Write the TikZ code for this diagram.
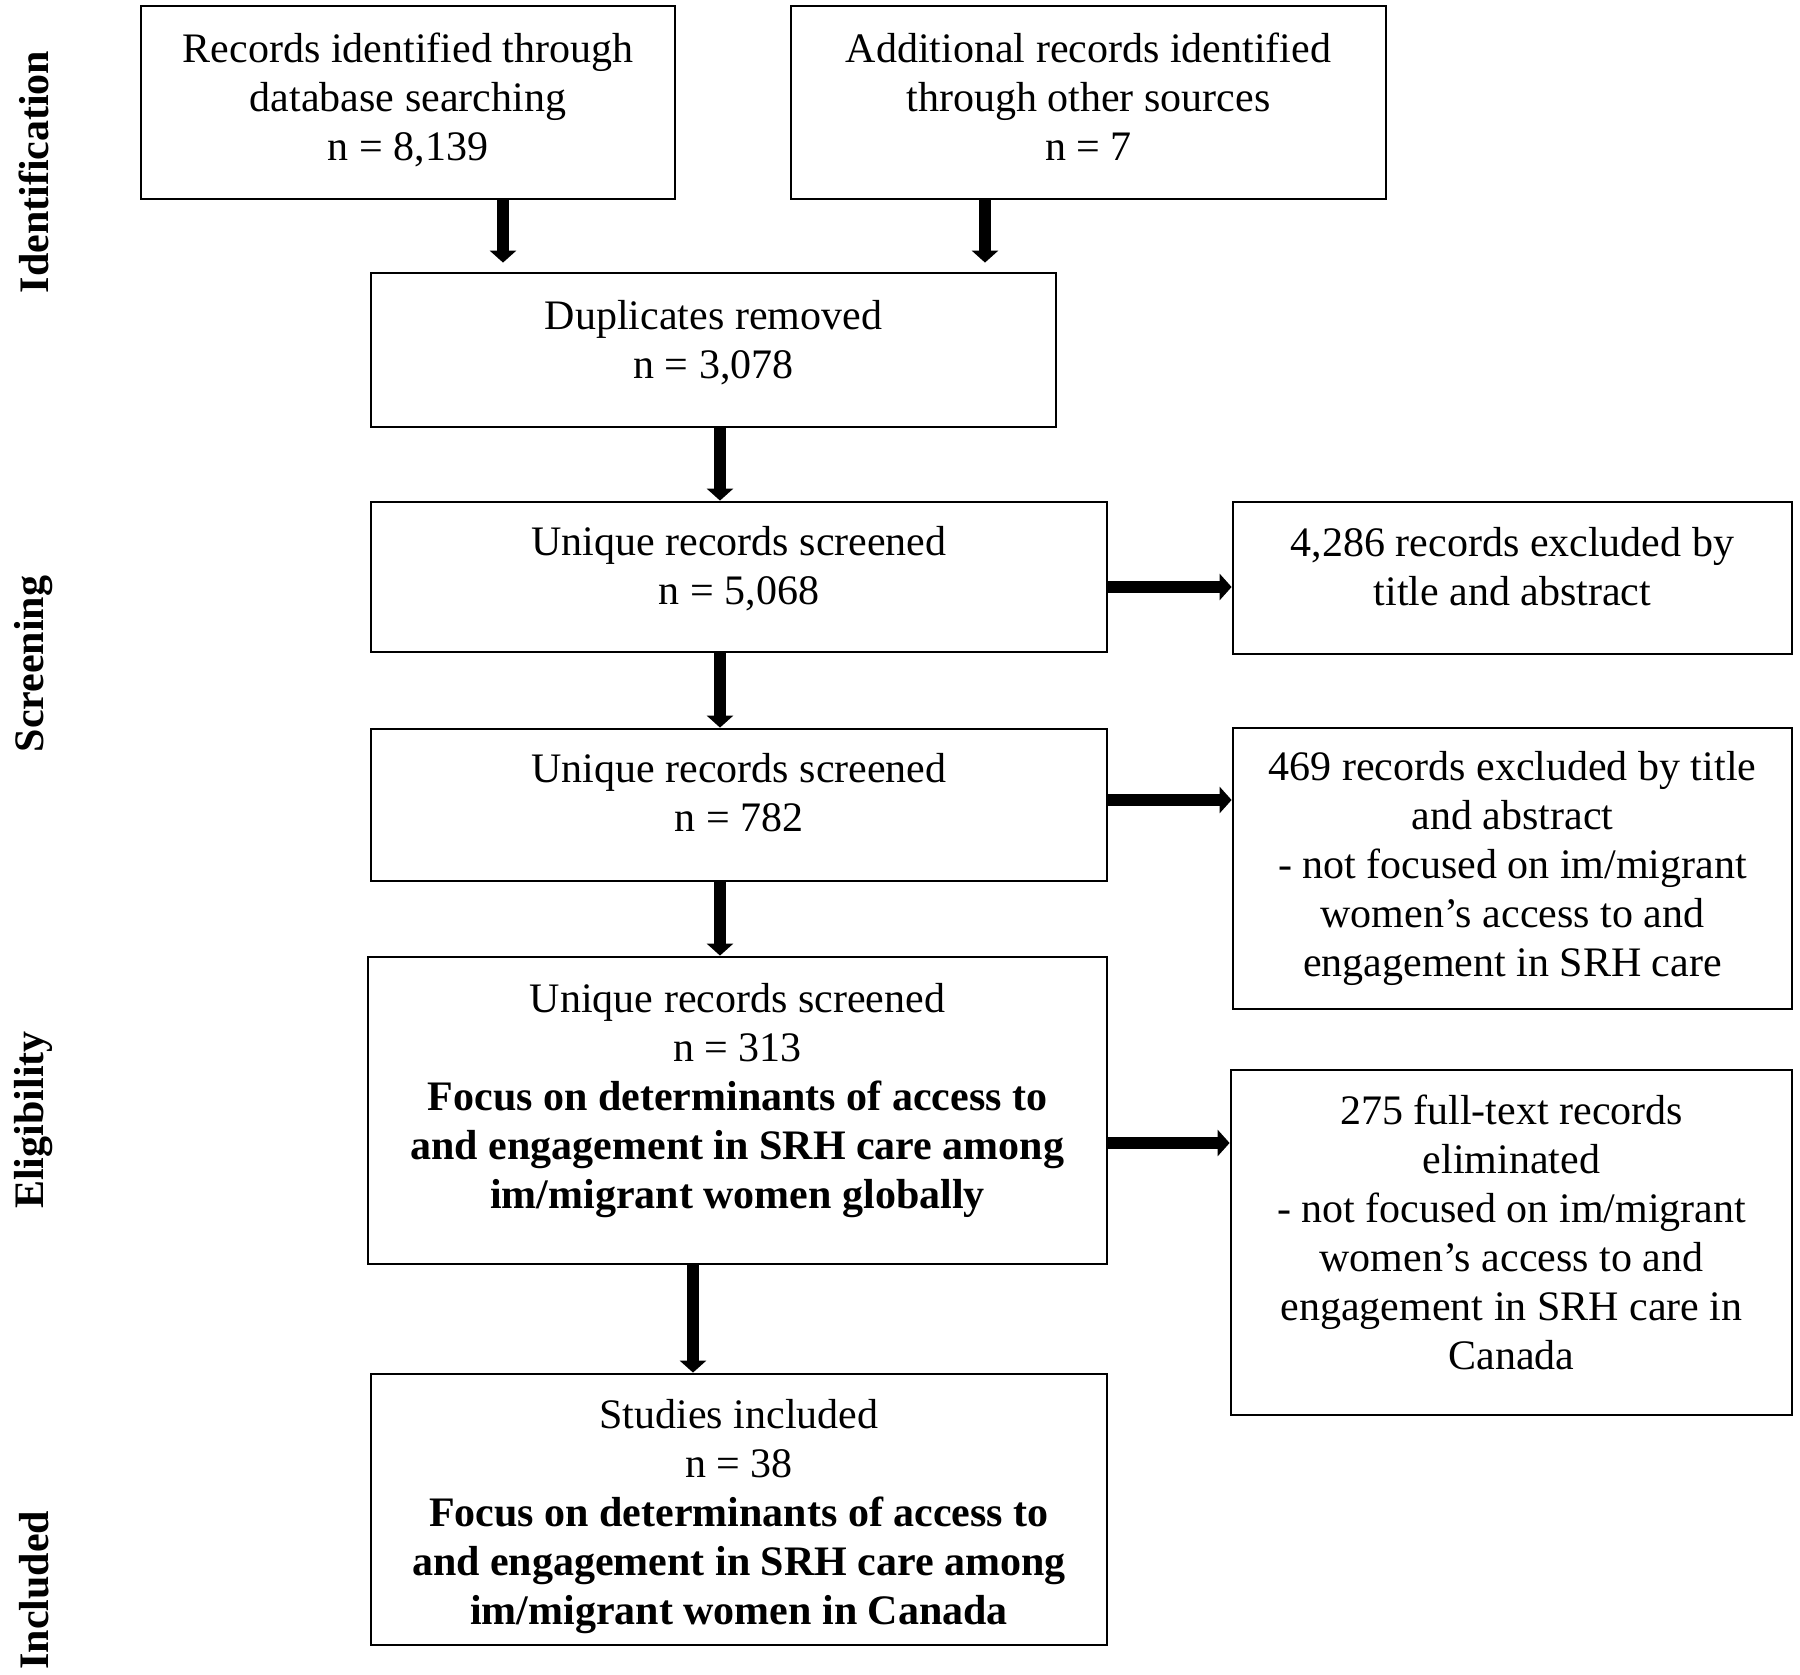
\documentclass[tikz,border=0pt]{standalone}
\usepackage{fontspec}
\setmainfont{Liberation Serif}
\usetikzlibrary{arrows.meta}
\begin{document}
\begin{tikzpicture}[x=1pt, y=-1pt,
	box/.style={draw, line width=1.4pt, align=center, inner sep=0pt,
		font=\fontsize{21}{24.5}\selectfont},
	arr/.style={line width=6pt, -{Triangle[length=6pt, width=13pt]}},
	phase/.style={rotate=90, font=\fontsize{21}{24.5}\selectfont\bfseries}]
	\useasboundingbox (0,0) rectangle (900,837.5);
	% boxes
	\node [box, minimum width=267pt, minimum height=96.5pt] (dbsearch) at (204,51.25)
		{Records identified through\\database searching\\n = 8,139\\[-19pt]};
	\node [box, minimum width=297.5pt, minimum height=96.5pt] (othersrc) at (544.25,51.25)
		{Additional records identified\\through other sources\\n = 7\\[-19pt]};
	\node [box, minimum width=342.5pt, minimum height=77pt] (dupl) at (356.75,175)
		{Duplicates removed\\n = 3,078\\[-14pt]};
	\node [box, minimum width=368pt, minimum height=75pt] (screenA) at (369.5,288.5)
		{Unique records screened\\n = 5,068\\[-13pt]};
	\node [box, minimum width=279.5pt, minimum height=76pt] (exclA) at (756.25,289)
		{4,286 records excluded by\\title and abstract\\[-13pt]};
	\node [box, minimum width=368pt, minimum height=76pt] (screenB) at (369.5,402.5)
		{Unique records screened\\n = 782\\[-11.5pt]};
	\node [box, minimum width=279.5pt, minimum height=140.5pt] (exclB) at (756.25,434.25)
		{469 records excluded by title\\and abstract\\- not focused on im/migrant\\women’s access to and\\engagement in SRH care};
	\node [box, minimum width=369.5pt, minimum height=153.5pt] (screenC) at (368.75,555.25)
		{Unique records screened\\n = 313\\\textbf{Focus on determinants of access to}\\\textbf{and engagement in SRH care among}\\\textbf{im/migrant women globally}\\[-9.5pt]};
	\node [box, minimum width=280.5pt, minimum height=172.5pt] (exclC) at (755.75,621.25)
		{275 full-text records\\eliminated\\- not focused on im/migrant\\women’s access to and\\engagement in SRH care in\\Canada\\[-14pt]};
	\node [box, minimum width=368pt, minimum height=135.5pt] (incl) at (369.5,754.75)
		{Studies included\\n = 38\\\textbf{Focus on determinants of access to}\\\textbf{and engagement in SRH care among}\\\textbf{im/migrant women in Canada}\\[-27pt]};
	% phase labels
	\node [phase] (lblid) at (17,86) {Identification};
	\node [phase] (lblscr) at (17,332) {Screening};
	\node [phase] (lblelig) at (17,560) {Eligibility};
	\node [phase] (lblincl) at (17,795) {Included};
	% arrows
	\draw [arr, shorten >=4.5pt] (dbsearch.south -| 251.5,0) -- (dupl.north -| 251.5,0);
	\draw [arr, shorten >=4.5pt] (othersrc.south -| 492.5,0) -- (dupl.north -| 492.5,0);
	\draw [arr] (dupl.south -| 360,0) -- (screenA.north -| 360,0);
	\draw [arr] (screenA.south -| 360,0) -- (screenB.north -| 360,0);
	\draw [arr] (screenB.south -| 360,0) -- (screenC.north -| 360,0);
	\draw [arr] (screenC.south -| 346.5,0) -- (incl.north -| 346.5,0);
	\draw [arr] (screenA.east |- 0,293.5) -- (exclA.west |- 0,293.5);
	\draw [arr] (screenB.east |- 0,400) -- (exclB.west |- 0,400);
	\draw [arr] (screenC.east |- 0,571.5) -- (exclC.west |- 0,571.5);
\end{tikzpicture}
\end{document}
